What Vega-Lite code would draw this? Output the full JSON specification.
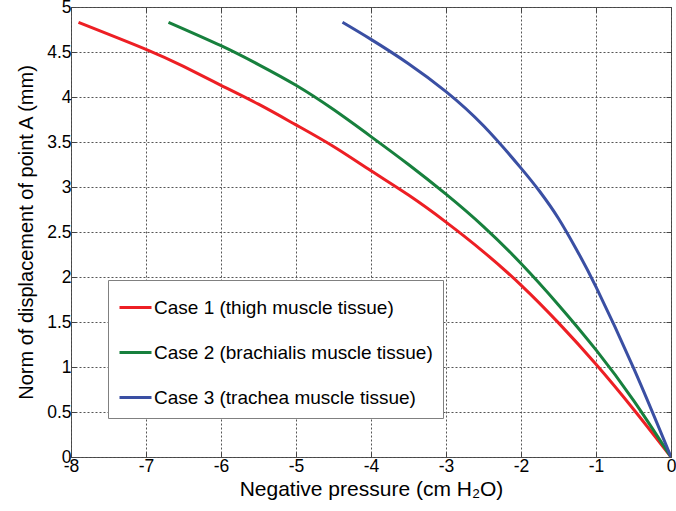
{
  "$schema": "https://vega.github.io/schema/vega-lite/v6.json",
  "width": 600,
  "height": 450,
  "autosize": "none",
  "padding": {"left": 71, "top": 7, "right": 5, "bottom": 54},
  "background": "white",
  "config": {
    "font": "Liberation Sans",
    "view": {"stroke": "#444444", "strokeWidth": 1},
    "axis": {
      "labelFont": "Liberation Sans",
      "titleFont": "Liberation Sans",
      "labelColor": "black",
      "titleColor": "black",
      "labelFontSize": 17.5,
      "titleFontSize": 20,
      "titleFontWeight": "normal",
      "domain": false,
      "grid": true,
      "gridColor": "#555555",
      "gridDash": [2, 2],
      "gridOpacity": 1,
      "gridWidth": 1,
      "ticks": true,
      "tickColor": "#444444",
      "tickSize": -5
    },
    "legend": {
      "labelFont": "Liberation Sans",
      "labelFontSize": 19,
      "labelColor": "black"
    }
  },
  "data": {
    "values": [
      {"series": "Case 1 (thigh muscle tissue)", "pressure": -7.9, "displacement": 4.83},
      {"series": "Case 1 (thigh muscle tissue)", "pressure": -7.0, "displacement": 4.53},
      {"series": "Case 1 (thigh muscle tissue)", "pressure": -6.5, "displacement": 4.34},
      {"series": "Case 1 (thigh muscle tissue)", "pressure": -6.0, "displacement": 4.13},
      {"series": "Case 1 (thigh muscle tissue)", "pressure": -5.5, "displacement": 3.92},
      {"series": "Case 1 (thigh muscle tissue)", "pressure": -5.0, "displacement": 3.69},
      {"series": "Case 1 (thigh muscle tissue)", "pressure": -4.5, "displacement": 3.45},
      {"series": "Case 1 (thigh muscle tissue)", "pressure": -4.0, "displacement": 3.18},
      {"series": "Case 1 (thigh muscle tissue)", "pressure": -3.5, "displacement": 2.91},
      {"series": "Case 1 (thigh muscle tissue)", "pressure": -3.0, "displacement": 2.61},
      {"series": "Case 1 (thigh muscle tissue)", "pressure": -2.5, "displacement": 2.28},
      {"series": "Case 1 (thigh muscle tissue)", "pressure": -2.0, "displacement": 1.91},
      {"series": "Case 1 (thigh muscle tissue)", "pressure": -1.5, "displacement": 1.49},
      {"series": "Case 1 (thigh muscle tissue)", "pressure": -1.0, "displacement": 1.03},
      {"series": "Case 1 (thigh muscle tissue)", "pressure": -0.5, "displacement": 0.53},
      {"series": "Case 1 (thigh muscle tissue)", "pressure": 0.0, "displacement": 0.0},
      {"series": "Case 2 (brachialis muscle tissue)", "pressure": -6.7, "displacement": 4.83},
      {"series": "Case 2 (brachialis muscle tissue)", "pressure": -6.0, "displacement": 4.57},
      {"series": "Case 2 (brachialis muscle tissue)", "pressure": -5.5, "displacement": 4.36},
      {"series": "Case 2 (brachialis muscle tissue)", "pressure": -5.0, "displacement": 4.13},
      {"series": "Case 2 (brachialis muscle tissue)", "pressure": -4.5, "displacement": 3.86},
      {"series": "Case 2 (brachialis muscle tissue)", "pressure": -4.0, "displacement": 3.56},
      {"series": "Case 2 (brachialis muscle tissue)", "pressure": -3.5, "displacement": 3.25},
      {"series": "Case 2 (brachialis muscle tissue)", "pressure": -3.0, "displacement": 2.92},
      {"series": "Case 2 (brachialis muscle tissue)", "pressure": -2.5, "displacement": 2.56},
      {"series": "Case 2 (brachialis muscle tissue)", "pressure": -2.0, "displacement": 2.15},
      {"series": "Case 2 (brachialis muscle tissue)", "pressure": -1.5, "displacement": 1.69},
      {"series": "Case 2 (brachialis muscle tissue)", "pressure": -1.0, "displacement": 1.19},
      {"series": "Case 2 (brachialis muscle tissue)", "pressure": -0.5, "displacement": 0.63},
      {"series": "Case 2 (brachialis muscle tissue)", "pressure": 0.0, "displacement": 0.0},
      {"series": "Case 3 (trachea muscle tissue)", "pressure": -4.38, "displacement": 4.83},
      {"series": "Case 3 (trachea muscle tissue)", "pressure": -4.0, "displacement": 4.64},
      {"series": "Case 3 (trachea muscle tissue)", "pressure": -3.5, "displacement": 4.37},
      {"series": "Case 3 (trachea muscle tissue)", "pressure": -3.0, "displacement": 4.06},
      {"series": "Case 3 (trachea muscle tissue)", "pressure": -2.5, "displacement": 3.68},
      {"series": "Case 3 (trachea muscle tissue)", "pressure": -2.0, "displacement": 3.21},
      {"series": "Case 3 (trachea muscle tissue)", "pressure": -1.75, "displacement": 2.95},
      {"series": "Case 3 (trachea muscle tissue)", "pressure": -1.5, "displacement": 2.65},
      {"series": "Case 3 (trachea muscle tissue)", "pressure": -1.25, "displacement": 2.29},
      {"series": "Case 3 (trachea muscle tissue)", "pressure": -1.0, "displacement": 1.89},
      {"series": "Case 3 (trachea muscle tissue)", "pressure": -0.5, "displacement": 0.99},
      {"series": "Case 3 (trachea muscle tissue)", "pressure": 0.0, "displacement": 0.0}
    ]
  },
  "layer": [
    {
      "mark": {"type": "line", "strokeWidth": 3, "interpolate": "natural", "clip": true},
      "encoding": {
        "x": {
          "field": "pressure",
          "type": "quantitative",
          "scale": {"domain": [-8, 0], "nice": false, "zero": false},
          "axis": {
            "orient": "bottom",
            "values": [-8, -7, -6, -5, -4, -3, -2, -1, 0],
            "labelExpr": "toString(datum.value)",
            "labelPadding": 5,
            "labelFlush": false,
            "title": "Negative pressure (cm H₂O)",
            "titleFontSize": 21,
            "titlePadding": 4
          }
        },
        "y": {
          "field": "displacement",
          "type": "quantitative",
          "scale": {"domain": [0, 5], "nice": false, "zero": false},
          "axis": {
            "orient": "left",
            "values": [0, 0.5, 1, 1.5, 2, 2.5, 3, 3.5, 4, 4.5, 5],
            "labelExpr": "toString(datum.value)",
            "labelPadding": 5,
            "labelFlush": false,
            "title": "Norm of displacement of point A (mm)",
            "titlePadding": 10
          }
        },
        "color": {
          "field": "series",
          "type": "nominal",
          "scale": {
            "domain": ["Case 1 (thigh muscle tissue)", "Case 2 (brachialis muscle tissue)", "Case 3 (trachea muscle tissue)"],
            "range": ["#ed1f24", "#17803d", "#3a4fa3"]
          },
          "legend": {
            "title": null,
            "orient": "none",
            "legendX": 37,
            "legendY": 273,
            "symbolType": "stroke",
            "symbolSize": 1024,
            "symbolStrokeWidth": 3,
            "rowPadding": 17,
            "labelOffset": 1,
            "padding": 10,
            "strokeColor": "#808080",
            "fillColor": "white",
            "labelLimit": 400
          }
        }
      }
    },
    {
      "mark": {"type": "line", "opacity": 0},
      "encoding": {
        "x": {
          "field": "pressure",
          "type": "quantitative",
          "scale": {"domain": [-8, 0], "nice": false, "zero": false},
          "axis": {
            "orient": "top",
            "values": [-8, -7, -6, -5, -4, -3, -2, -1, 0],
            "labels": false,
            "grid": false,
            "title": null
          }
        },
        "y": {
          "field": "displacement",
          "type": "quantitative",
          "scale": {"domain": [0, 5], "nice": false, "zero": false},
          "axis": {
            "orient": "right",
            "values": [0, 0.5, 1, 1.5, 2, 2.5, 3, 3.5, 4, 4.5, 5],
            "labels": false,
            "grid": false,
            "title": null
          }
        },
        "detail": {"field": "series"}
      }
    }
  ],
  "resolve": {"axis": {"x": "independent", "y": "independent"}}
}
